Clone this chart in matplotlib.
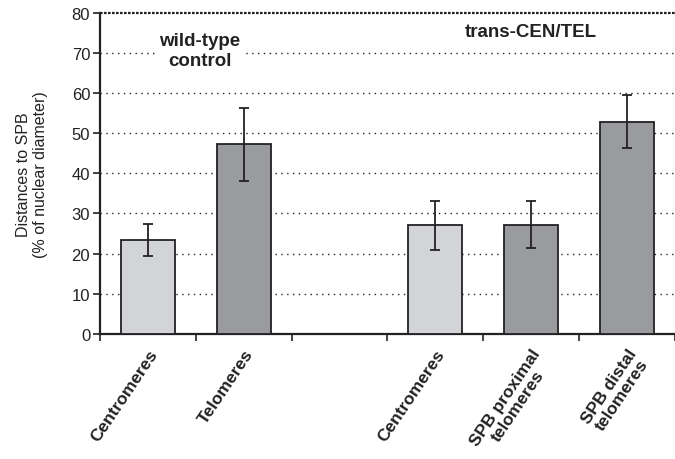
import matplotlib.pyplot as plt
import numpy as np

plt.rcParams['font.family'] = ['Liberation Sans', 'DejaVu Sans']

labels = ['Centromeres', 'Telomeres', '', 'Centromeres', 'SPB proximal\ntelomeres', 'SPB distal\ntelomeres']
values = [23.4, 47.3, np.nan, 27.2, 27.2, 52.9]
err_low = [3.9, 9.2, np.nan, 6.4, 5.7, 6.5]
err_high = [4.0, 9.1, np.nan, 6.0, 6.0, 6.7]
colors = ['#d3d4d7', '#9a9b9f', 'none', '#d3d4d7', '#9a9b9f', '#9a9b9f']

fig = plt.figure(figsize=(6.75, 4.6), dpi=100)
ax = fig.add_axes([0.148, 0.272, 0.852, 0.698])

x = np.arange(len(labels))
ax.bar(x, values, width=0.565, color=colors, edgecolor='#222222', linewidth=1.3, zorder=3)
ax.errorbar(x, values, yerr=[err_low, err_high], fmt='none', ecolor='#222222',
            elinewidth=1.3, capsize=3.3, capthick=1.3, zorder=4)

ax.set_xlim(-0.5, 5.5)
ax.set_ylim(0, 80)
ax.set_yticks(np.arange(0, 81, 10))
for v in range(10, 80, 10):
    ax.axhline(v, color='#222222', linestyle=(0, (1, 3.2)), linewidth=1.0, zorder=1)
ax.axhline(80, color='#222222', linestyle=(0, (1.2, 0.6)), linewidth=1.6, zorder=2, clip_on=False)

ax.set_xticks(x)
ax.set_xticklabels(labels, rotation=56, ha='right', va='top', rotation_mode='anchor',
                   fontsize=12.5, fontweight='bold', multialignment='center',
                   color='#222222', linespacing=1.0)
ax.tick_params(axis='x', length=0, pad=9)
ax.set_xticks(np.arange(-0.5, 6, 1), minor=True)
ax.tick_params(axis='x', which='minor', length=5, width=1.2, direction='out', color='#222222')
ax.tick_params(axis='y', length=5, width=1.2, direction='out', labelsize=12,
               color='#222222', labelcolor='#222222', pad=2)

for s in ['top', 'right']:
    ax.spines[s].set_visible(False)
for s in ['left', 'bottom']:
    ax.spines[s].set_linewidth(1.6)
    ax.spines[s].set_color('#222222')

ax.set_ylabel('Distances to SPB\n(% of nuclear diameter)', fontsize=11.5, color='#222222',
              labelpad=17, linespacing=1.2)

ax.text(0.54, 70.6, 'wild-type\ncontrol', ha='center', va='center', fontsize=13.5,
        fontweight='bold', color='#222222', linespacing=1.3,
        bbox=dict(facecolor='white', edgecolor='none', pad=3), zorder=5)
ax.text(4.0, 75.3, 'trans-CEN/TEL', ha='center', va='center', fontsize=13.5,
        fontweight='bold', color='#222222', zorder=5)

fig.savefig('out.png', dpi=100)
